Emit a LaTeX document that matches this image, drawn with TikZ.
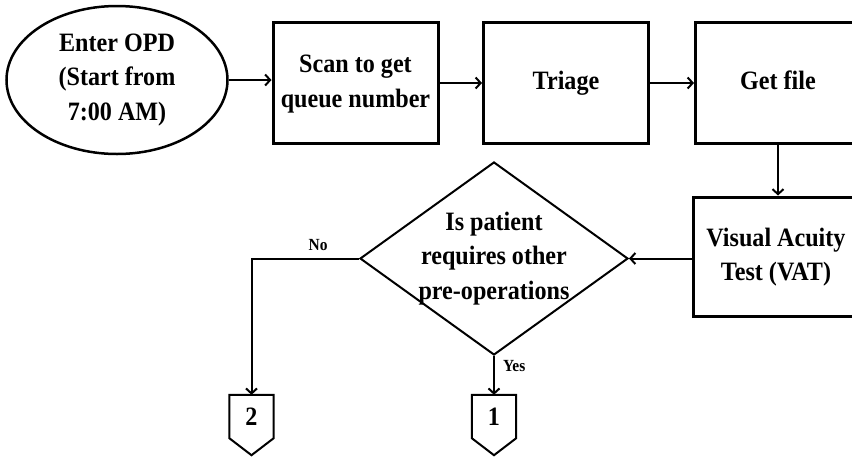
\documentclass[tikz,border=0pt]{standalone}
\usepackage{fontspec}
\setmainfont{Liberation Serif}[FakeStretch=0.91]
\usetikzlibrary{shapes.geometric,arrows.meta,calc}
\begin{document}
\begin{tikzpicture}[x=1pt,y=-1pt,
  every node/.style={font=\bfseries\fontsize{26.5}{34.5}\selectfont, align=center},
  procbox/.style={draw, line width=3pt, minimum width=165pt, minimum height=121pt, inner sep=0pt},
  startell/.style={draw, ellipse, line width=2.5pt, minimum width=221pt, minimum height=148pt, inner sep=0pt},
  decision/.style={draw, diamond, line width=2pt, minimum width=268pt, minimum height=193pt, inner sep=0pt},
  offpage/.style={minimum width=44pt, minimum height=43pt, inner sep=0pt},
  smalllab/.style={font=\bfseries\fontsize{17}{19}\selectfont, inner sep=2pt},
  flow/.style={line width=2pt, -{Straight Barb[length=5pt,width=11pt,line width=2pt]}}
]
\useasboundingbox (0,0) rectangle (852,456);
\clip (0,0) rectangle (852,456);
\node[startell] (opd) at (117,80) {Enter OPD\\(Start from\\7:00 AM)};
\node[procbox] (scan) at (355.5,83) {\raisebox{5pt}{\begin{tabular}{@{}c@{}}Scan to get\\queue number\end{tabular}}};
\node[procbox] (tri) at (566,83) {\raisebox{5pt}{Triage}};
\node[procbox] (file) at (778,83) {\raisebox{5pt}{Get file}};
\node[procbox, minimum height=119pt] (vat) at (776,256.5) {\raisebox{2pt}{\begin{tabular}{@{}c@{}}Visual Acuity\\Test (VAT)\end{tabular}}};
\node[decision, label={[align=center]center:Is patient\\requires other\\pre-operations}] (dec) at (494,258.5) {};
\node[offpage] (c2) at (251.5,416.5) {2};
\node[offpage] (c1) at (494,416.5) {1};
\foreach \c in {c1,c2}{
  \draw[line width=2pt, line join=miter] (\c.north west) -- (\c.south west) -- ($(\c.south)+(0,17)$) -- (\c.south east) -- (\c.north east) -- cycle;
}
\draw[flow] (opd.east) -- (scan.west |- opd.east);
\draw[flow] (scan.east |- tri.west) -- (tri.west);
\draw[flow] (tri) -- (file);
\draw[flow] (file.south) -- (vat.north -| file.south);
\draw[flow] (vat.west |- dec.east) -- (dec.east);
\draw[flow] (dec.west) -| node[smalllab, pos=0.19, above, yshift=5pt] {No} (c2.north);
\draw[flow] (dec.south) -- node[smalllab, pos=0.25, right, xshift=6pt] {Yes} (c1.north);
\end{tikzpicture}
\end{document}
